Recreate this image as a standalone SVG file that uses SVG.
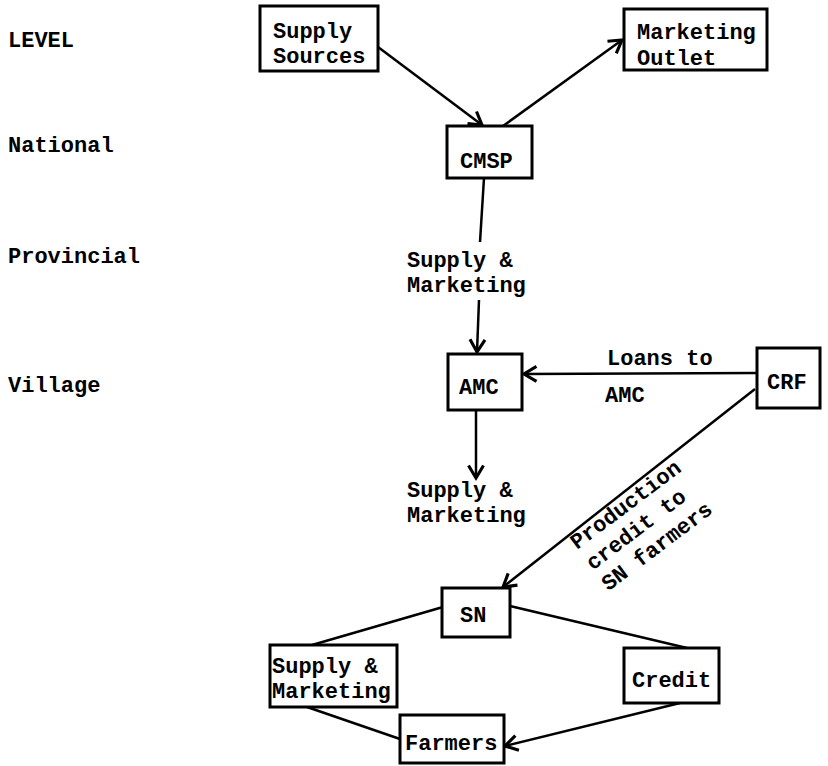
<svg xmlns="http://www.w3.org/2000/svg" width="828" height="766" viewBox="0 0 828 766">
<style>
text{font-family:"Liberation Mono","Courier New",monospace;font-weight:bold;font-size:22px;fill:#000}
.box{fill:#fff;stroke:#000;stroke-width:3}
.ln{fill:none;stroke:#000;stroke-width:2.5}
</style>
<defs>
<marker id="arr" markerUnits="userSpaceOnUse" markerWidth="20" markerHeight="20" viewBox="-12 -8 14 16" refX="0" refY="0" orient="auto">
<path d="M-10,-6 L0,0 L-10,6" fill="none" stroke="#000" stroke-width="2.5"/>
</marker>
</defs>
<rect width="828" height="766" fill="#fff"/>
<g id="levels">
<text x="8" y="47">LEVEL</text>
<text x="8" y="152">National</text>
<text x="8" y="263">Provincial</text>
<text x="8" y="392">Village</text>
</g>
<g id="connectors">
<path class="ln" d="M378,47 L482,125" marker-end="url(#arr)"/>
<path class="ln" d="M503,126 L622,40" marker-end="url(#arr)"/>
<path class="ln" d="M484,178 L480,242"/>
<path class="ln" d="M479,300 L477,352" marker-end="url(#arr)"/>
<path class="ln" d="M476,410 L476,478" marker-end="url(#arr)"/>
<path class="ln" d="M757,373 L524,374" marker-end="url(#arr)"/>
<path class="ln" d="M755,389 L503,587" marker-end="url(#arr)"/>
<path class="ln" d="M443,607 L312,645"/>
<path class="ln" d="M510,606 L687,648"/>
<path class="ln" d="M307,707 L400,739"/>
<path class="ln" d="M680,703 L505,746" marker-end="url(#arr)"/>
<text x="407" y="267">Supply &amp;</text>
<text x="407" y="292">Marketing</text>
<text x="407" y="497">Supply &amp;</text>
<text x="407" y="522">Marketing</text>
<text x="607" y="365">Loans to</text>
<text x="605" y="402">AMC</text>
<text transform="translate(577,550) rotate(-37)"><tspan x="0" y="0">Production</tspan><tspan x="0" y="26">credit to</tspan><tspan x="0" y="52">SN farmers</tspan></text>
</g>
<g id="supply-sources"><rect class="box" x="260" y="6" width="118" height="65"/><text x="273" y="38">Supply</text><text x="273" y="63">Sources</text></g>
<g id="marketing-outlet"><rect class="box" x="624" y="9" width="143" height="61"/><text x="637" y="39">Marketing</text><text x="637" y="65">Outlet</text></g>
<g id="cmsp"><rect class="box" x="447" y="126" width="85" height="52"/><text x="460" y="168">CMSP</text></g>
<g id="amc"><rect class="box" x="448" y="354" width="74" height="56"/><text x="459" y="394">AMC</text></g>
<g id="crf"><rect class="box" x="757" y="348" width="63" height="60"/><text x="767" y="389">CRF</text></g>
<g id="sn"><rect class="box" x="442" y="588" width="68" height="49"/><text x="460" y="622">SN</text></g>
<g id="supply-marketing"><rect class="box" x="270" y="645" width="127" height="62"/><text x="272" y="673">Supply &amp;</text><text x="272" y="698">Marketing</text></g>
<g id="farmers"><rect class="box" x="400" y="715" width="104" height="48"/><text x="405" y="750">Farmers</text></g>
<g id="credit"><rect class="box" x="624" y="648" width="95" height="55"/><text x="632" y="687">Credit</text></g>
</svg>
